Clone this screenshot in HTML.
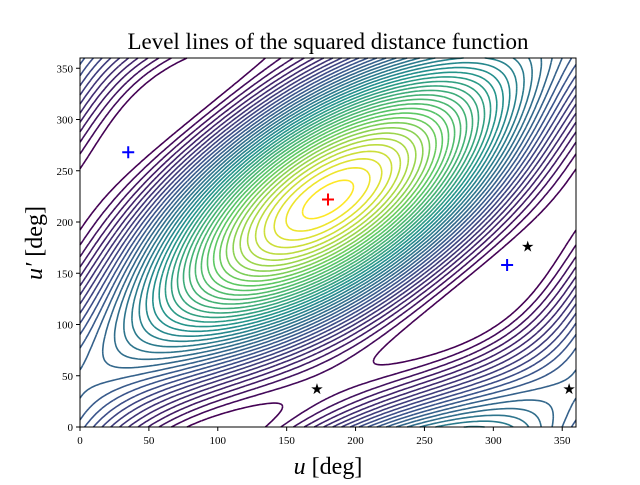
<!DOCTYPE html>
<html><head><meta charset="utf-8"><style>
body{margin:0;background:#fff;}
svg text{font-family:"Liberation Serif","DejaVu Serif",serif;}
</style></head><body>
<svg id="chart" width="640" height="480" viewBox="0 0 640 480" xmlns="http://www.w3.org/2000/svg">
<rect width="640" height="480" fill="#fff"/>
<text x="328" y="49" font-size="23" text-anchor="middle">Level lines of the squared distance function</text>
<g id="contours"></g>
<g id="markers"></g>
<rect x="80" y="58" width="496" height="369" fill="none" stroke="#000" stroke-width="1"/>
<g id="xticks"></g>
<g id="yticks"></g>
<text x="328" y="474" font-size="24" text-anchor="middle"><tspan font-style="italic">u</tspan> [deg]</text>
<text transform="translate(42,243) rotate(-90)" font-size="24" text-anchor="middle"><tspan font-style="italic">u′</tspan> [deg]</text>
</svg>
<script>
// function parameters: amplitudes and phase centers (deg)
const amps = [0.55, 0.5, 1.0];
const phases = [180, 222, -42];
const levelCount = 40;
const xTicks = [0,50,100,150,200,250,300,350];
const yTicks = [0,50,100,150,200,250,300,350];
const blueX = [35, 310], blueY = [268, 158];
const redX = [180], redY = [222];
const starX = [172, 325, 355], starY = [37, 176, 37];

const L=80,R=576,T=58,B=427;
const sx=v=>L+(v/360)*(R-L), sy=v=>B-(v/360)*(B-T);
const NS='http://www.w3.org/2000/svg';
const d2r=Math.PI/180;
function f(u,v){return amps[0]*Math.cos((u-phases[0])*d2r)+amps[1]*Math.cos((v-phases[1])*d2r)+amps[2]*Math.cos((u-v-phases[2])*d2r);}
const vir=[[68,1,84],[59,82,139],[33,145,140],[94,201,98],[253,231,37]];
function col(t){t=Math.max(0,Math.min(1,t))*4;const i=Math.min(3,Math.floor(t)),r=t-i;const a=vir[i],b=vir[i+1];return `rgb(${a.map((c,k)=>Math.round(c+(b[k]-c)*r)).join(',')})`;}
const N=180,g=[];let mn=1e9,mx=-1e9;
for(let j=0;j<=N;j++){g[j]=[];for(let i=0;i<=N;i++){const z=f(i*360/N,j*360/N);g[j][i]=z;mn=Math.min(mn,z);mx=Math.max(mx,z);}}
const cg=document.getElementById('contours');
const lo=mn+(mx-mn)*0.04;
for(let k=0;k<levelCount;k++){
  const lv=lo+(mx-lo)*k/levelCount*1.0+ (mx-lo)*0.01;
  let d='';
  const P=(i,j,i2,j2)=>{const a=g[j][i],b=g[j2][i2],t=(lv-a)/(b-a);const u=(i+(i2-i)*t)*360/N,v=(j+(j2-j)*t)*360/N;return sx(u).toFixed(1)+' '+sy(v).toFixed(1);};
  for(let j=0;j<N;j++)for(let i=0;i<N;i++){
    const a=g[j][i]>lv,b=g[j][i+1]>lv,c=g[j+1][i+1]>lv,e=g[j+1][i]>lv;
    const pts=[];
    if(a!==b)pts.push(P(i,j,i+1,j));
    if(b!==c)pts.push(P(i+1,j,i+1,j+1));
    if(c!==e)pts.push(P(i+1,j+1,i,j+1));
    if(e!==a)pts.push(P(i,j+1,i,j));
    if(pts.length>=2)d+='M'+pts[0]+'L'+pts[1];
    if(pts.length===4)d+='M'+pts[2]+'L'+pts[3];
  }
  const p=document.createElementNS(NS,'path');
  
  
  p.setAttribute('d',d);p.setAttribute('fill','none');p.setAttribute('stroke',col(k/(levelCount-1)));p.setAttribute('stroke-width','1.6');
  cg.appendChild(p);
}
const mg=document.getElementById('markers');
function plus(x,y,c){const p=document.createElementNS(NS,'path');


const X=sx(x),Y=sy(y);p.setAttribute('d',`M${X-6} ${Y}H${X+6}M${X} ${Y-6}V${Y+6}`);p.setAttribute('stroke',c);p.setAttribute('stroke-width','2');mg.appendChild(p);}
blueX.forEach((x,i)=>plus(x,blueY[i],'#00f'));
redX.forEach((x,i)=>plus(x,redY[i],'#f00'));
starX.forEach((x,i)=>{const t=document.createElementNS(NS,'text');


t.setAttribute('x',sx(x));t.setAttribute('y',sy(starY[i])+5);t.setAttribute('text-anchor','middle');t.setAttribute('font-size','15');t.setAttribute('style','font-family:"DejaVu Sans",sans-serif');t.textContent='★';mg.appendChild(t);});
const xg=document.getElementById('xticks'),yg=document.getElementById('yticks');
xTicks.forEach(v=>{const X=sx(v);const l=document.createElementNS(NS,'line');


l.setAttribute('x1',X);l.setAttribute('x2',X);l.setAttribute('y1',B);l.setAttribute('y2',B+4);l.setAttribute('stroke','#000');xg.appendChild(l);
const t=document.createElementNS(NS,'text');


t.setAttribute('x',X);t.setAttribute('y',B+17);t.setAttribute('font-size','11');t.setAttribute('text-anchor','middle');t.textContent=v;xg.appendChild(t);});
yTicks.forEach(v=>{const Y=sy(v);const l=document.createElementNS(NS,'line');


l.setAttribute('x1',L-4);l.setAttribute('x2',L);l.setAttribute('y1',Y);l.setAttribute('y2',Y);l.setAttribute('stroke','#000');yg.appendChild(l);
const t=document.createElementNS(NS,'text');


t.setAttribute('x',L-7);t.setAttribute('y',Y+4);t.setAttribute('font-size','11');t.setAttribute('text-anchor','end');t.textContent=v;yg.appendChild(t);});
</script>
</body></html>
